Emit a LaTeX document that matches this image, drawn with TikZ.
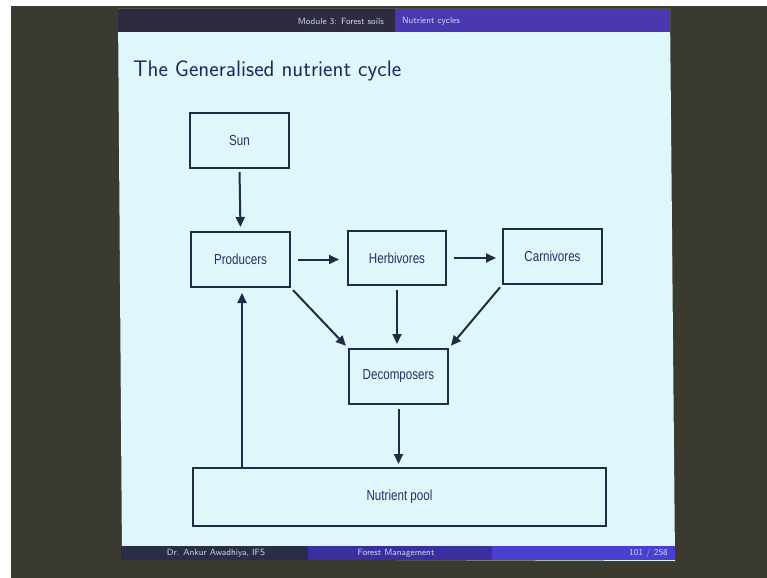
\documentclass[tikz,border=0pt]{standalone}
\usepackage{fontspec}
\usetikzlibrary{arrows.meta}
\newfontfamily\boxfont[FakeStretch=0.8]{Liberation Sans}
\definecolor{surround}{HTML}{3B3A31}
\definecolor{slidebg}{HTML}{DFF6FA}
\definecolor{hdrdark}{HTML}{2E2B3E}
\definecolor{hdrblue}{HTML}{4A37B2}
\definecolor{ftdark}{HTML}{2B2C48}
\definecolor{ftmid}{HTML}{3A2F9E}
\definecolor{ftright}{HTML}{4B3FD0}
\definecolor{inkline}{HTML}{222B45}
\definecolor{inktext}{HTML}{1D3566}
\definecolor{titlecol}{HTML}{1B2A5C}
\definecolor{hdrtext}{HTML}{C8DCEF}
\tikzset{
  box/.style={draw=inkline, line width=2bp, fill=none, text=inktext,
    font=\boxfont\fontsize{14.5bp}{16bp}\selectfont, inner sep=0pt},
  arr/.style={draw=inkline, line width=2bp, -{Triangle[length=10bp,width=9bp]}},
  bartext/.style={text=hdrtext, font=\sffamily\fontsize{9bp}{10bp}\selectfont, inner sep=0pt}
}
\begin{document}
\begin{tikzpicture}[x=1bp,y=-1bp]
\useasboundingbox (0,0) rectangle (767,578);
% photo surround
\fill[white] (0,0) rectangle (767,578);
\fill[surround] (11,6) rectangle (767,578);
% slide
\fill[slidebg] (118,9) -- (670,9) -- (675,561) -- (122,559) -- cycle;
% header bar
\fill[hdrdark] (118,9) rectangle (395,32);
\fill[hdrblue] (395,9) rectangle (670,32);
\node[bartext, anchor=east] (hm) at (384,21) {Module 3: Forest soils};
\node[bartext, anchor=west] (hn) at (402,21) {Nutrient cycles};
% footer bar
\fill[ftdark] (121,546) rectangle (308,560);
\fill[ftmid] (308,546) rectangle (492,560);
\fill[ftright] (492,546) rectangle (675,560);
\node[bartext, anchor=center] (fa) at (216,553) {Dr. Ankur Awadhiya, IFS};
\node[bartext, anchor=center] (fm) at (396,553) {Forest Management};
\node[bartext, anchor=east] (fp) at (668,553) {101 / 258};
% title
\node[anchor=base west, inner sep=0pt, text=titlecol,
  font=\sffamily\fontsize{22.5bp}{25bp}\selectfont] (title) at (133,77) {The Generalised nutrient cycle};
% boxes
\node[box, minimum width=99bp, minimum height=55bp] (sun) at (239.5,140.5) {Sun};
\node[box, minimum width=99bp, minimum height=55bp] (prod) at (240.5,259.5) {Producers};
\node[box, minimum width=98bp, minimum height=54bp] (herb) at (397,258) {Herbivores};
\node[box, minimum width=99bp, minimum height=55bp] (carn) at (552.5,256.5) {Carnivores};
\node[box, minimum width=99bp, minimum height=55bp] (deco) at (398.5,376.5) {Decomposers};
\node[box, minimum width=413bp, minimum height=58bp] (pool) at (399.5,497) {Nutrient pool};
% connectors
\draw[arr, shorten <=3bp, shorten >=4bp] (sun.south) -- (prod.north);
\draw[arr, shorten <=7bp, shorten >=8bp] (prod.east) -- (herb.west |- prod.east);
\draw[arr, shorten <=7bp, shorten >=6bp] (herb.east) -- (carn.west |- herb.east);
\draw[arr, shorten <=3bp, shorten >=3bp] (prod.south east) -- (deco.north west);
\draw[arr, shorten <=4bp, shorten >=4bp] (herb.south) -- (deco.north -| herb.south);
\draw[arr, shorten <=3bp, shorten >=3bp] (carn.south west) -- (deco.north east);
\draw[arr, shorten <=4bp, shorten >=3bp] (deco.south) -- (pool.north -| deco.south);
\coordinate (pp) at ([xshift=1.5bp]pool.north -| prod.south);
\draw[arr, shorten >=5bp] (pp) -- (pp |- prod.south);
\end{tikzpicture}
\end{document}
